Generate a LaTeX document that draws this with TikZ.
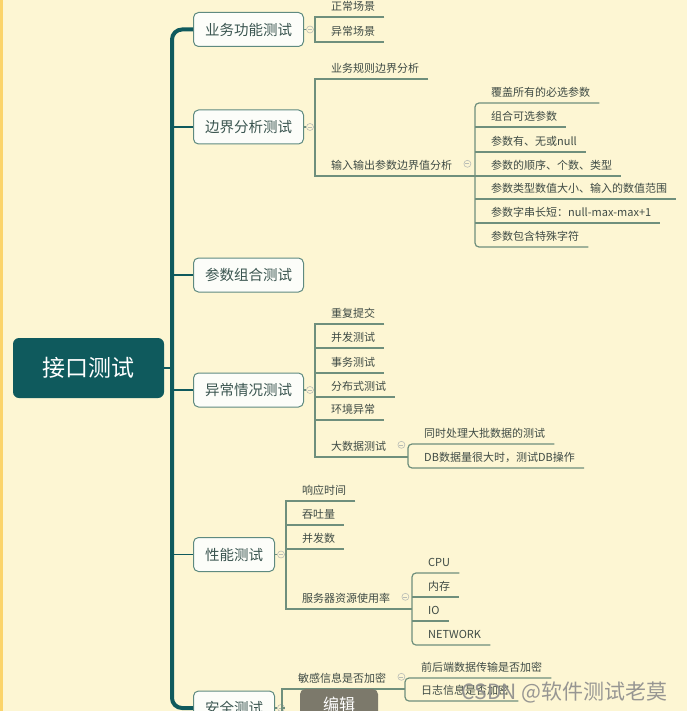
\documentclass[tikz,border=0pt]{standalone}
\usepackage{fontspec}
\setmainfont{Noto Sans CJK SC}
\usepackage{tikz}
\usetikzlibrary{calc, positioning}

\definecolor{bg}{HTML}{FDF6D3}
\definecolor{edgecol}{HTML}{FBD46A}
\definecolor{rootfill}{HTML}{0F5A5D}
\definecolor{boxline}{HTML}{5E8A80}
\definecolor{boxfill}{HTML}{FCFDF9}
\definecolor{linecol}{HTML}{6F8F7C}
\definecolor{topictext}{HTML}{3A5550}
\definecolor{leaftext}{HTML}{3F4B45}
\definecolor{togglegray}{HTML}{B9BDB6}
\definecolor{btnfill}{HTML}{7C796B}

\tikzset{rootbox/.style={fill=rootfill, rounded corners=6pt, minimum width=151pt, minimum height=60pt,
  text=white, font=\fontsize{23}{26}\selectfont},
topic/.style={draw=boxline, fill=boxfill, line width=1pt, rounded corners=5pt, anchor=west,
  minimum height=34pt, inner xsep=11.5pt, text=topictext, font=\fontsize{14.5}{17}\selectfont},
leaf/.style={anchor=south west, inner xsep=9pt, inner ysep=3pt, text height=9pt, text depth=3pt,
  text=leaftext, font=\fontsize{11}{13}\selectfont, execute at begin node={\hspace{7pt}}},
%small collapse button
toggle/.style={circle, draw=togglegray, fill=bg, line width=0.6pt, minimum size=7pt, inner sep=0pt,
  path picture={\draw[togglegray, line width=0.6pt] ([xshift=-2pt]path picture bounding box.center) -- ([xshift=2pt]path picture bounding box.center);}},
conn/.style={draw=linecol, line width=1.2pt},
subconn/.style={conn, rounded corners=4pt},
trunk/.style={draw=rootfill, line width=4pt, rounded corners=10pt},
branch/.style={draw=rootfill, line width=1.6pt},
editbtn/.style={fill=btnfill, rounded corners=5pt, anchor=north, minimum width=78pt, minimum height=30pt,
  text=white, font=\fontsize{16}{18}\selectfont},
wmark/.style={text=black!45, opacity=0.9, font=\fontsize{21}{24}\selectfont}}

\begin{document}
\begin{tikzpicture}[x=1pt,y=-1pt]
 %Background
 \useasboundingbox (0,0) rectangle (687,711);
 \clip (0,0) rectangle (687,711);
 \fill[bg] (0,0) rectangle (687,711);
 \fill[edgecol] (0,0) rectangle (2.5,711);

 %Root and main topics
 \node[rootbox] (root) at (88.5,368) {接口测试};
 \coordinate (hub) at (172,368);

 \node[topic] (b1) at (193,29.5) {业务功能测试};
 \node[topic] (b2) at (193,127) {边界分析测试};
 \node[topic] (b3) at (193,275) {参数组合测试};
 \node[topic] (b4) at (193,390) {异常情况测试};
 \node[topic] (b5) at (193,554.5) {性能测试};
 \node[topic] (b6) at (193,708) {安全测试};

 %Drawing the trunk
 \draw[trunk] (b1.west) -| (hub) |- (b6.west);
 \draw[branch] (root.east) -- (hub);
 \draw[branch] (hub |- b2.west) -- (b2.west);
 \draw[branch] (hub |- b3.west) -- (b3.west);
 \draw[branch] (hub |- b4.west) -- (b4.west);
 \draw[branch] (hub |- b5.west) -- (b5.west);

 %Topic 1
 \node[toggle] (t1) at ([xshift=6pt]b1.east) {};
 \node[leaf] (l11) at (315,17) {正常场景};
 \node[leaf] (l12) at (315,42) {异常场景};
 \draw[conn] (b1.east) -- (t1) -- (t1 -| l11.south west);
 \draw[conn] (l11.south east) -- (l11.south west) -- (l12.south west) -- (l12.south east);

 %Topic 2
 \node[toggle] (t2) at ([xshift=6pt]b2.east) {};
 \node[leaf] (l21) at (315,79) {业务规则边界分析};
 \node[leaf] (l22) at (315,176) {输入输出参数边界值分析};
 \node[toggle] (t22) at ([xshift=6pt,yshift=3pt]l22.east) {};

 \node[leaf] (s21) at (475,103) {覆盖所有的必选参数};
 \node[leaf] (s22) at (475,127) {组合可选参数};
 \node[leaf] (s23) at (475,152) {参数有、无或null};
 \node[leaf] (s24) at (475,176) {参数的顺序、个数、类型};
 \node[leaf] (s25) at (475,199) {参数类型数值大小、输入的数值范围};
 \node[leaf] (s26) at (475,223) {参数字串长短：null-max-max+1};
 \node[leaf] (s27) at (475,247) {参数包含特殊字符};

 \draw[conn] (b2.east) -- (t2) -- (t2 -| l21.south west);
 \draw[conn] (l21.south east) -- (l21.south west) -- (l22.south west) -- (s21.south west |- l22.south west);
 \draw[subconn] (s21.south east) -- (s21.south west) -- (s27.south west) -- (s27.south east);
 \draw[conn] (s22.south west) -- (s22.south east);
 \draw[conn] (s23.south west) -- (s23.south east);
 \draw[conn] (s24.south west) -- (s24.south east);
 \draw[conn] (s25.south west) -- (s25.south east);
 \draw[conn] (s26.south west) -- (s26.south east);

 %Topic 4
 \node[toggle] (t4) at ([xshift=6pt]b4.east) {};
 \node[leaf] (l41) at (315,324) {重复提交};
 \node[leaf] (l42) at (315,348) {并发测试};
 \node[leaf] (l43) at (315,373) {事务测试};
 \node[leaf] (l44) at (315,397) {分布式测试};
 \node[leaf] (l45) at (315,420) {环境异常};
 \node[leaf] (l46) at (315,457) {大数据测试};
 \node[toggle] (t46) at ([xshift=6pt,yshift=3pt]l46.east) {};

 \node[leaf] (s41) at (408,444) {同时处理大批数据的测试};
 \node[leaf] (s42) at (408,468) {DB数据量很大时，测试DB操作};

 \draw[conn] (b4.east) -- (t4) -- (t4 -| l41.south west);
 \draw[conn] (l41.south east) -- (l41.south west) -- (l46.south west) -- (s41.south west |- l46.south west);
 \draw[conn] (l42.south west) -- (l42.south east);
 \draw[conn] (l43.south west) -- (l43.south east);
 \draw[conn] (l44.south west) -- (l44.south east);
 \draw[conn] (l45.south west) -- (l45.south east);
 \draw[subconn] (s41.south east) -- (s41.south west) -- (s42.south west) -- (s42.south east);

 %Topic 5
 \node[toggle] (t5) at ([xshift=6pt]b5.east) {};
 \node[leaf] (l51) at (286,501) {响应时间};
 \node[leaf] (l52) at (286,525) {吞吐量};
 \node[leaf] (l53) at (286,549) {并发数};
 \node[leaf] (l54) at (286,609) {服务器资源使用率};
 \node[toggle] (t54) at ([xshift=6pt,yshift=3pt]l54.east) {};

 \node[leaf] (s51) at (412,573) {CPU};
 \node[leaf] (s52) at (412,597) {内存};
 \node[leaf] (s53) at (412,621) {IO};
 \node[leaf] (s54) at (412,645) {NETWORK};

 \draw[conn] (b5.east) -- (t5) -- (t5 -| l51.south west);
 \draw[conn] (l51.south east) -- (l51.south west) -- (l54.south west) -- (s51.south west |- l54.south west);
 \draw[conn] (l52.south west) -- (l52.south east);
 \draw[conn] (l53.south west) -- (l53.south east);
 \draw[subconn] (s51.south east) -- (s51.south west) -- (s54.south west) -- (s54.south east);
 \draw[conn] (s52.south west) -- (s52.south east);
 \draw[conn] (s53.south west) -- (s53.south east);

 %Topic 6
 \node[toggle] (t6) at ([xshift=6pt]b6.east) {};
 \node[leaf] (l61) at (282,689) {敏感信息是否加密};
 \coordinate (l6end) at (282,740);
 \node[toggle] (t61) at ([xshift=6pt,yshift=3pt]l61.east) {};

 \node[leaf] (s61) at (405,678) {前后端数据传输是否加密};
 \node[leaf] (s62) at (405,701) {日志信息是否加密};

 \draw[conn] (b6.east) -- (t6) -- (t6 -| l61.south west);
 \draw[conn] (s61.south west |- l61.south west) -- (l61.south west) -- (l6end);
 \draw[subconn] (s61.south east) -- (s61.south west) -- (s62.south west) -- (s62.south east);

 %Overlays
 \node[editbtn] (edit) at (339,689) {编辑};
 \node[wmark] (wm) at (564.5,692) {CSDN @软件测试老莫};
\end{tikzpicture}
\end{document}
